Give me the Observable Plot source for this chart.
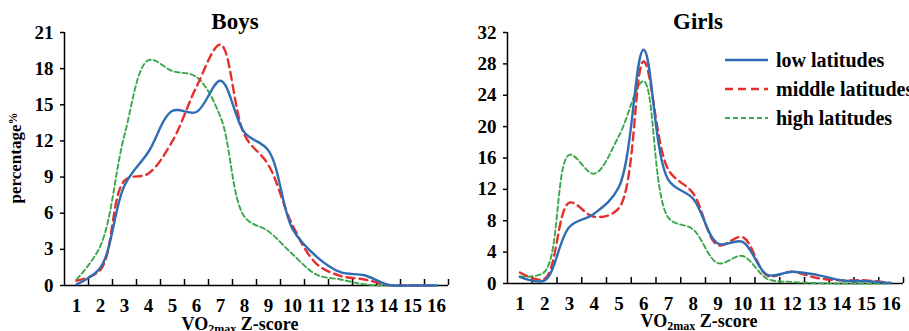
<!DOCTYPE html>
<html><head><meta charset="utf-8">
<script src="https://cdn.jsdelivr.net/npm/d3@7"></script>
<script src="https://cdn.jsdelivr.net/npm/@observablehq/plot@0.6"></script>
<style>
body{margin:0;background:#fff;}
#wrap{position:relative;width:909px;height:331px;overflow:hidden;font-family:"Liberation Serif",serif;font-weight:bold;}
#wrap > svg{position:absolute;top:0;}
</style></head><body><div id="wrap"></div>
<script>
const zScores = [1,2,3,4,5,6,7,8,9,10,11,12,13,14,15,16];
const seriesNames = ["low latitudes","middle latitudes","high latitudes"];
const boysLow  = [0.1,1.5,8.3,11.1,14.5,14.4,17.0,12.7,11.2,4.7,2.4,1.1,0.85,0.05,0,0];
const boysMid  = [0.4,1.3,8.7,9.3,12.0,16.5,20.0,12.5,10.0,5.0,1.8,0.8,0.5,0.05,0,0];
const boysHigh = [0.5,3.3,12.5,18.7,17.8,17.3,14.0,5.7,4.5,2.6,0.9,0.5,0.1,0,0,0];
const girlsLow  = [0.85,0.4,7.2,8.9,12.3,29.8,13.2,10.8,5.1,5.3,1.1,1.5,1.1,0.4,0.3,0.05];
const girlsMid  = [1.4,0.6,10.3,8.5,9.6,28.3,14.5,11.5,4.9,5.9,1.0,1.5,0.7,0.4,0.4,0.05];
const girlsHigh = [0.9,1.5,16.4,14.0,18.8,25.8,8.4,6.9,2.6,3.5,0.6,0.2,0.05,0,0,0];
const boysYTicks = [0,3,6,9,12,15,18,21];
const girlsYTicks = [0,4,8,12,16,20,24,28,32];
const boundaries = zScores.map(z => z + 0.5);

const colors = ["#2e6db4","#e3302b","#3aa84a"];
const dashes = [null,"8,5","5,3"];
const widths = [2.4,2.4,1.9];

function rows(arrs){
  const out=[];
  arrs.forEach((a,si)=>a.forEach((v,i)=>out.push({z:zScores[i],v,series:seriesNames[si]})));
  return out;
}

function panel(arrs, yMax, yTicks, width, mL, mR, mT, mB){
  const height = 331;
  const frameH = height - mT - mB;
  const data = rows(arrs);
  return Plot.plot({
    width, height, marginLeft:mL, marginRight:mR, marginTop:mT, marginBottom:mB,
    style:{fontFamily:"Liberation Serif", fontWeight:"bold", fontSize:"19px", color:"#000", background:"transparent", overflow:"visible"},
    x:{domain:[0.5,16.5]},
    y:{domain:[0,yMax]},
    marks:[
      Plot.axisY({ticks:yTicks, tickSize:4, tickPadding:7, label:null, strokeWidth:1.5}),
      Plot.axisX({ticks:zScores, tickSize:0, tickPadding:13, label:null}),
      Plot.tickX(boundaries, {x:d=>d, insetTop:frameH-6, strokeWidth:1.5, stroke:"#000"}),
      Plot.ruleY([0], {stroke:"#000", strokeWidth:1.5}),
      Plot.ruleX([0.5], {stroke:"#000", strokeWidth:1.5}),
      ...[2,1,0].map(si => Plot.line(data.filter(d=>d.series===seriesNames[si]), {
        x:"z", y:"v", curve:"catmull-rom", stroke:colors[si], strokeWidth:widths[si],
        strokeDasharray:dashes[si]
      }))
    ]
  });
}

const wrap = document.getElementById("wrap");
const boys = panel([boysLow,boysMid,boysHigh], 21, boysYTicks, 450, 64, 2, 32, 46);
boys.style.left = "0px";
wrap.appendChild(boys);
const girls = panel([girlsLow,girlsMid,girlsHigh], 32, girlsYTicks, 459, 57, 6, 32, 48);
girls.style.left = "450px";
wrap.appendChild(girls);

// overlay text
const ov = d3.select(wrap).append("svg").attr("width",909).attr("height",331)
  .style("left","0px").style("font-family","Liberation Serif").style("font-weight","bold");
ov.append("text").attr("x",235).attr("y",29).attr("text-anchor","middle").attr("font-size",23).text("Boys");
ov.append("text").attr("x",698).attr("y",29).attr("text-anchor","middle").attr("font-size",23).text("Girls");

function xLabel(x,y){
  const t = ov.append("text").attr("x",x).attr("y",y).attr("text-anchor","middle").attr("font-size",18);
  t.append("tspan").text("VO");
  t.append("tspan").attr("font-size",12).attr("dy",3).text("2max");
  t.append("tspan").attr("dy",-3).text(" Z-score");
}
xLabel(240,330);
xLabel(699,327);

const yl = ov.append("text").attr("transform","translate(21,158) rotate(-90)").attr("text-anchor","middle").attr("font-size",17);
yl.append("tspan").text("percentage");
yl.append("tspan").attr("font-size",12).attr("dy",-4).text("%");

seriesNames.forEach((name,i)=>{
  const y = 60 + i*29;
  ov.append("line").attr("x1",725).attr("x2",768).attr("y1",y).attr("y2",y)
    .attr("stroke",colors[i]).attr("stroke-width",widths[i]).attr("stroke-dasharray",dashes[i]);
  ov.append("text").attr("x",776).attr("y",y).attr("dy","0.33em").attr("font-size",20).text(name);
});
</script>
</body></html>
